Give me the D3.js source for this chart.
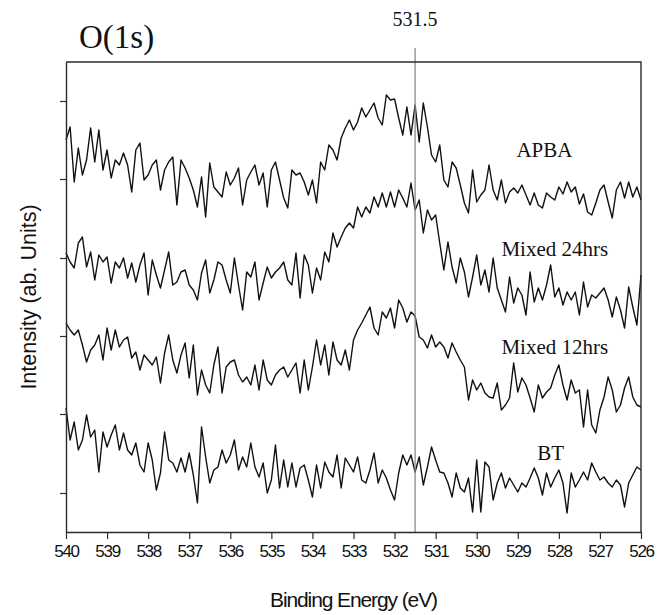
<!DOCTYPE html>
<html>
<head>
<meta charset="utf-8">
<script src="https://cdn.jsdelivr.net/npm/d3@7/dist/d3.min.js"></script>
<style>
  html, body { margin: 0; padding: 0; background: #fff; }
  svg { display: block; }
</style>
</head>
<body>
<svg id="chart" width="671" height="615"></svg>
<script>
// Binding energy grid (eV), 0.1 eV step
const energy = [
  540.0,539.9,539.8,539.7,539.6,539.5,539.4,539.3,539.2,539.1,
  539.0,538.9,538.8,538.7,538.6,538.5,538.4,538.3,538.2,538.1,
  538.0,537.9,537.8,537.7,537.6,537.5,537.4,537.3,537.2,537.1,
  537.0,536.9,536.8,536.7,536.6,536.5,536.4,536.3,536.2,536.1,
  536.0,535.9,535.8,535.7,535.6,535.5,535.4,535.3,535.2,535.1,
  535.0,534.9,534.8,534.7,534.6,534.5,534.4,534.3,534.2,534.1,
  534.0,533.9,533.8,533.7,533.6,533.5,533.4,533.3,533.2,533.1,
  533.0,532.9,532.8,532.7,532.6,532.5,532.4,532.3,532.2,532.1,
  532.0,531.9,531.8,531.7,531.6,531.5,531.4,531.3,531.2,531.1,
  531.0,530.9,530.8,530.7,530.6,530.5,530.4,530.3,530.2,530.1,
  530.0,529.9,529.8,529.7,529.6,529.5,529.4,529.3,529.2,529.1,
  529.0,528.9,528.8,528.7,528.6,528.5,528.4,528.3,528.2,528.1,
  528.0,527.9,527.8,527.7,527.6,527.5,527.4,527.3,527.2,527.1,
  527.0,526.9,526.8,526.7,526.6,526.5,526.4,526.3,526.2,526.1,
  526.0
];

// Stacked intensities (arbitrary units, offset traces)
const apba = [
  392,405,350,384,357,372,404,370,402,362,382,354,372,367,379,367,340,382,389,352,
  357,367,372,342,362,370,375,327,372,364,354,342,325,355,315,369,345,340,335,360,
  347,354,364,327,352,360,367,347,359,325,362,370,352,334,324,362,357,359,350,337,
  352,329,370,362,387,382,372,394,404,412,402,410,424,415,422,429,414,407,437,432,
  433,414,397,425,397,427,390,429,405,377,370,387,352,345,370,364,347,329,319,362,
  330,337,342,367,342,332,352,329,340,344,339,347,337,327,339,327,324,339,335,332,
  345,338,350,340,345,328,338,320,317,329,342,347,330,314,342,350,334,350,335,345,
  332
];
const mixed24 = [
  279,270,264,289,295,265,280,252,277,270,275,249,270,264,274,254,269,250,267,279,
  237,272,257,244,262,280,247,250,260,262,247,242,232,259,272,239,252,270,267,252,
  239,274,247,222,260,255,270,232,249,265,254,260,264,270,252,247,279,234,277,267,
  239,264,252,280,270,299,285,295,304,309,304,325,315,325,319,335,325,339,325,340,
  325,342,334,325,349,322,332,299,322,312,317,289,262,290,265,249,274,260,235,255,
  277,247,262,240,274,244,232,220,255,229,244,237,217,260,230,244,232,247,267,235,
  244,227,240,232,240,217,250,225,237,234,239,244,232,215,235,222,204,245,225,207,
  257
];
const mixed12 = [
  209,202,197,202,187,170,182,187,197,172,204,182,202,185,192,195,174,180,162,177,
  172,167,175,149,179,197,172,159,177,189,154,187,137,162,147,139,167,185,139,165,
  170,172,157,150,155,147,167,142,172,152,147,157,162,165,155,162,169,139,172,142,
  165,192,167,187,157,190,172,167,182,162,192,202,209,217,225,204,197,220,214,224,
  204,232,224,210,220,216,195,192,184,197,185,190,185,174,189,180,172,165,132,152,
  142,149,139,135,134,149,122,127,134,169,140,154,147,134,120,147,134,140,144,157,
  167,147,132,152,139,142,105,142,107,99,122,135,155,142,120,127,144,155,135,127,
  125
];
const bt = [
  124,92,110,82,92,117,95,102,60,100,85,97,107,82,99,82,77,89,67,60,
  89,72,42,59,100,72,69,60,74,60,79,57,29,105,75,49,62,65,82,69,
  77,92,62,75,65,89,65,55,69,39,52,87,44,72,45,69,45,64,67,52,
  35,67,44,70,60,55,77,44,74,67,60,75,52,49,62,79,49,62,54,42,
  32,59,77,67,77,60,75,47,65,85,72,60,59,49,35,59,44,40,54,20,
  72,20,70,65,32,49,59,44,54,47,40,49,45,54,64,54,37,59,45,54,
  62,49,19,59,45,52,60,52,69,60,52,55,49,45,52,47,25,49,57,65,
  62
];

const seriesNames = ["APBA", "Mixed 24hrs", "Mixed 12hrs", "BT"];
const seriesValues = [apba, mixed24, mixed12, bt];

// Axis ticks
const xTickValues = [540, 539, 538, 537, 536, 535, 534, 533, 532, 531, 530, 529, 528, 527, 526];
const yTickValues = [39, 118, 196, 274, 353, 431];
const markerEnergy = 531.5;

// Where each trace's name sits, in data coordinates
const labelSpots = [
  { e: 528.35, v: 375 },
  { e: 528.1,  v: 276 },
  { e: 528.1,  v: 178 },
  { e: 528.2,  v: 72 }
];

const margin = { left: 66, right: 30, top: 62, bottom: 83 };
const W = 671, H = 615;
const svg = d3.select("#chart");

const x = d3.scaleLinear().domain([540, 526]).range([margin.left, W - margin.right]);
const y = d3.scaleLinear().domain([0, 470]).range([H - margin.bottom, margin.top]);

const frameColor = "#2b2b2b";
const sans = "'Liberation Sans', Arial, sans-serif";
const serif = "'Liberation Serif', 'Times New Roman', serif";

// Traces
const line = d3.line()
  .x((d, i) => x(energy[i]))
  .y(d => y(d));

svg.append("g")
  .selectAll("path")
  .data(seriesValues)
  .join("path")
  .attr("d", d => line(d))
  .attr("fill", "none")
  .attr("stroke", "#111")
  .attr("stroke-width", 1.4)
  .attr("stroke-linejoin", "round");

// Peak position marker
svg.append("line")
  .attr("x1", x(markerEnergy)).attr("x2", x(markerEnergy))
  .attr("y1", 48).attr("y2", y(0))
  .attr("stroke", "#8a8a8a")
  .attr("stroke-width", 1.3);

svg.append("text")
  .attr("x", x(markerEnergy))
  .attr("y", 26)
  .attr("text-anchor", "middle")
  .attr("font-family", serif)
  .attr("font-size", 20)
  .attr("fill", "#111")
  .text(markerEnergy.toFixed(1));

// Frame (top and right edges)
svg.append("path")
  .attr("d", `M${x(540)},${y(470)}H${x(526)}V${y(0)}`)
  .attr("fill", "none")
  .attr("stroke", frameColor)
  .attr("stroke-width", 1.4);

// Bottom axis
const xAxis = d3.axisBottom(x)
  .tickValues(xTickValues)
  .tickSize(7)
  .tickSizeOuter(0)
  .tickPadding(6)
  .tickFormat(d3.format("d"));

const gx = svg.append("g")
  .attr("transform", `translate(0,${y(0)})`)
  .call(xAxis);
gx.select(".domain").attr("stroke", frameColor).attr("stroke-width", 1.4);
gx.selectAll(".tick line").attr("stroke", frameColor).attr("stroke-width", 1.2);
gx.selectAll(".tick text")
  .attr("font-family", sans)
  .attr("font-size", 17)
  .attr("letter-spacing", "-1.3px")
  .attr("fill", "#111");

// Left axis (ticks only)
const yAxis = d3.axisLeft(y)
  .tickValues(yTickValues)
  .tickSize(6)
  .tickSizeOuter(0)
  .tickFormat("");

const gy = svg.append("g")
  .attr("transform", `translate(${x(540)},0)`)
  .call(yAxis);
gy.select(".domain").attr("stroke", frameColor).attr("stroke-width", 1.4);
gy.selectAll(".tick line").attr("stroke", frameColor).attr("stroke-width", 1.2);

// Axis titles
svg.append("text")
  .attr("x", (x(540) + x(526)) / 2)
  .attr("y", 607)
  .attr("text-anchor", "middle")
  .attr("font-family", sans)
  .attr("font-size", 21)
  .attr("letter-spacing", "-1.1px")
  .attr("fill", "#111")
  .text("Binding Energy (eV)");

svg.append("text")
  .attr("transform", `translate(36,${(y(0) + y(470)) / 2}) rotate(-90)`)
  .attr("text-anchor", "middle")
  .attr("font-family", sans)
  .attr("font-size", 21.5)
  .attr("fill", "#111")
  .text("Intensity (ab. Units)");

// Panel title
svg.append("text")
  .attr("x", 79)
  .attr("y", 48)
  .attr("font-family", serif)
  .attr("font-size", 33)
  .attr("fill", "#111")
  .text("O(1s)");

// Trace names
svg.append("g")
  .selectAll("text")
  .data(seriesNames)
  .join("text")
  .attr("x", (d, i) => x(labelSpots[i].e))
  .attr("y", (d, i) => y(labelSpots[i].v))
  .attr("text-anchor", "middle")
  .attr("font-family", serif)
  .attr("font-size", 21)
  .attr("fill", "#111")
  .text(d => d);
</script>
</body>
</html>
